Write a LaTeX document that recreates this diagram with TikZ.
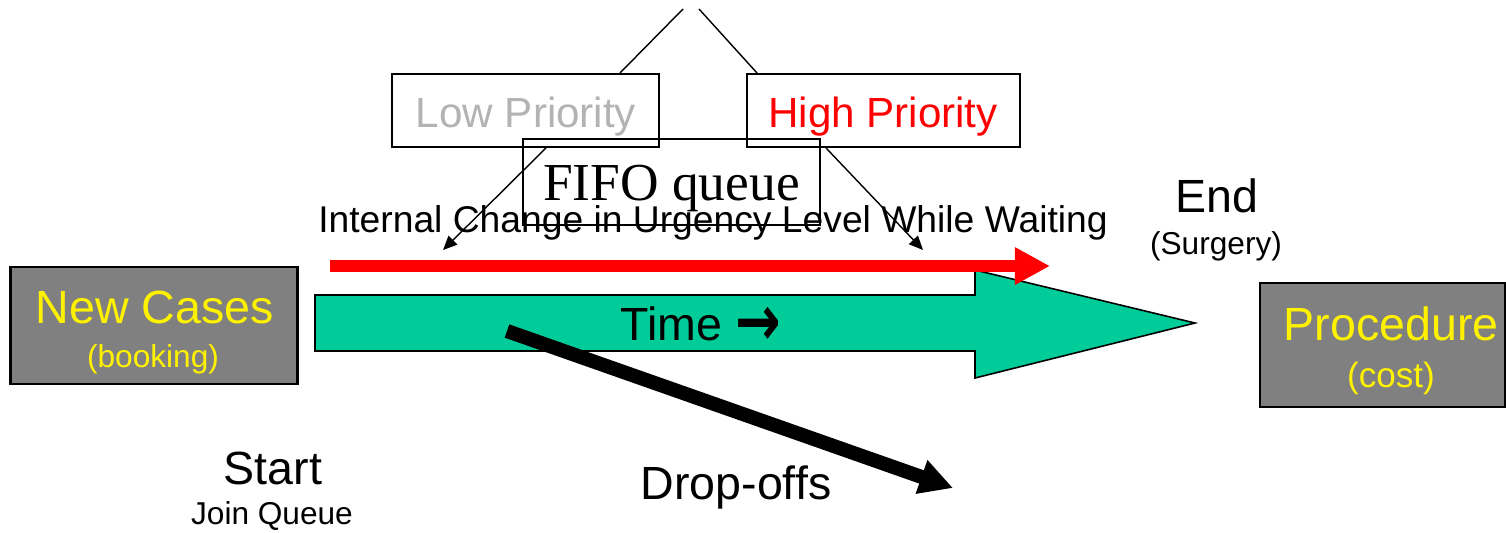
\documentclass[tikz,border=0pt]{standalone}
\usepackage{fontspec}
\setmainfont{Liberation Sans}
\newfontfamily\fifofont{Liberation Serif}
\newfontfamily\arrowfont{DejaVu Sans}
\usetikzlibrary{arrows.meta,calc}
\definecolor{boxgray}{HTML}{808080}
\definecolor{timegreen}{HTML}{00CC99}
\definecolor{lowgray}{HTML}{B3B3B3}
\newcommand{\bigtext}{\fontsize{26.5}{30}\selectfont}
\newcommand{\midtext}{\fontsize{24}{28}\selectfont}
\newcommand{\smalltext}{\fontsize{18}{21}\selectfont}
\begin{document}
\begin{tikzpicture}[x=0.02cm, y=-0.02cm]
    \tikzset{casebox/.style={draw, fill=boxgray, line width=1.2pt, inner sep=0pt}}
    \tikzset{prioritybox/.style={draw, line width=1.1pt, inner sep=0pt}}
    \tikzset{lbl/.style={anchor=base, inner sep=0pt}}
    \tikzset{thinarrow/.style={line width=0.8pt, -{Triangle[length=8pt, width=7pt]}}}

    \useasboundingbox (0,0) rectangle (1506,532);

    % the time arrow
    \draw[fill=timegreen, line width=0.9pt] (315,295) -- (975,295) -- (975,270) -- (1195,323) -- (975,378) -- (975,351) -- (315,351) -- cycle;
    \node[lbl, font=\bigtext] (time) at (701,340) {Time {\arrowfont\bfseries\fontsize{31}{31}\selectfont\raisebox{-3pt}{\scalebox{1}[1.3]{→}}}};

    % start and end
    \node[casebox, minimum width=5.74cm, minimum height=2.34cm] (newcases) at (154,325.5) {};
        \node[lbl, font=\bigtext, text=yellow] (newcasestxt) at (155,323) {New Cases};
        \node[lbl, font=\smalltext, text=yellow] (booking) at (153,367) {(booking)};
    \node[casebox, minimum width=4.9cm, minimum height=2.48cm] (procedure) at (1382.5,345) {};
        \node[lbl, font=\bigtext, text=yellow] (proceduretxt) at (1391,340) {Procedure};
        \node[lbl, font=\fontsize{20}{24}\selectfont, text=yellow] (cost) at (1391,387) {(cost)};

    \node[lbl, font=\bigtext] (start) at (273,484) {Start};
    \node[lbl, font=\smalltext] (join) at (272,524) {Join Queue};
    \node[lbl, font=\bigtext] (end) at (1217,212) {End};
    \node[lbl, font=\smalltext] (surgery) at (1216,254) {(Surgery)};

    % priorities
    \node[prioritybox, minimum width=5.34cm, minimum height=1.46cm] (lowbox) at (525.5,110.5) {};
        \node[lbl, font=\midtext, text=lowgray] (lowtxt) at (526,127) {Low Priority};
    \node[prioritybox, minimum width=5.46cm, minimum height=1.46cm] (highbox) at (883.5,110.5) {};
        \node[lbl, font=\midtext, text=red] (hightxt) at (883,127) {High Priority};
    \node[prioritybox, minimum width=5.94cm, minimum height=1.72cm] (fifobox) at (671.5,182) {};
        \node[lbl, font=\fifofont\fontsize{30.4}{34}\selectfont] (fifotxt) at (671.5,200) {FIFO queue};
    \node[lbl, font=\fontsize{21.2}{25}\selectfont] (urgency) at (713,232) {Internal Change in Urgency Level While Waiting};

    \coordinate (lowtop) at (683,9);
    \coordinate (hightop) at (699,9);
    \draw[line width=0.8pt] ($(lowbox.north east)+(-40,0)$) -- (lowtop);
    \draw[line width=0.8pt] ($(highbox.north west)+(11,0)$) -- (hightop);

    \coordinate (lowend) at (443,250);
    \coordinate (highend) at (923,250);
    \draw[thinarrow] ($(lowbox.south)+(20.5,0)$) -- (lowend);
    \draw[thinarrow] ($(highbox.south)+(-57.5,0)$) -- (highend);

    % waiting and drop-offs
    \coordinate (redstart) at (330,266);
    \coordinate (redend) at (1050,266);
    \draw[red, line width=6.3pt, -{Triangle[length=20pt, width=20pt]}] (redstart) -- (redend);

    \coordinate (dropstart) at (507,331);
    \coordinate (dropend) at (953,488);
    \draw[line width=8pt, -{Triangle[length=19pt, width=19pt]}] (dropstart) -- (dropend);
    \node[lbl, font=\bigtext] (drop) at (736,499) {Drop-offs};
\end{tikzpicture}
\end{document}
